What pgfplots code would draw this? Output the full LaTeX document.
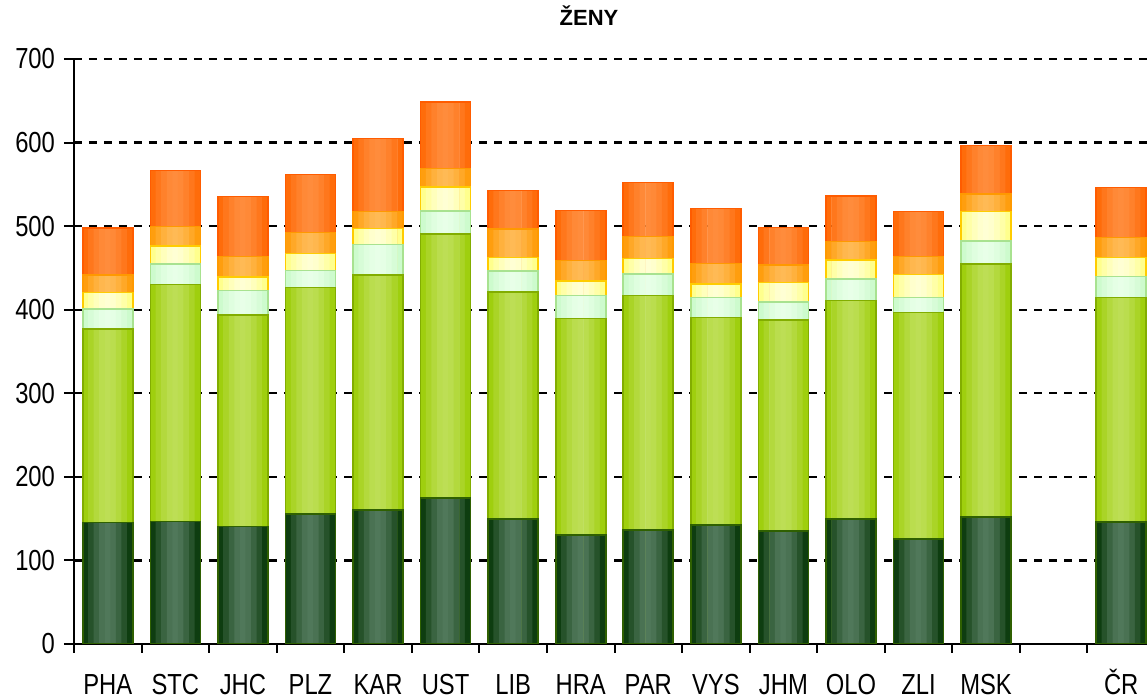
\documentclass[border=0pt]{standalone}
\usepackage{fontspec}
\setmainfont{Liberation Sans}[FakeStretch=0.82]
\newfontfamily\titlefont{Liberation Sans}
\usepackage{pgfplots}
\pgfplotsset{compat=1.18}
\usepackage{pgfplotstable}

\definecolor{dgE}{HTML}{023202}
\definecolor{dgC}{HTML}{50785A}
\definecolor{lgE}{HTML}{99CC00}
\definecolor{lgC}{HTML}{BDDE55}
\definecolor{mnE}{HTML}{C8FAC8}
\definecolor{mnC}{HTML}{E8FFE8}
\definecolor{mnB}{HTML}{A8E290}
\definecolor{ylE}{HTML}{FFFF80}
\definecolor{ylC}{HTML}{FFFFD4}
\definecolor{ylB}{HTML}{FFCC00}
\definecolor{loE}{HTML}{FF9900}
\definecolor{loC}{HTML}{FFBA55}
\definecolor{orE}{HTML}{FF6600}
\definecolor{orC}{HTML}{FF8C3C}

% cumulative tops of each segment (bottom to top)
\pgfplotstableread{
x a b c d e f
0  145.6 376.9 400.5 420.8 441.5 497.8
1  146.4 430.4 455.0 476.2 499.4 566.8
2  140.8 393.7 422.8 439.2 463.5 535.7
3  155.2 426.8 446.7 467.5 492.2 561.6
4  160.0 441.5 477.9 497.0 517.3 605.1
5  174.7 490.6 518.1 546.8 569.2 648.6
6  149.6 421.2 446.0 462.7 496.6 542.5
7  130.4 389.3 417.2 434.0 459.1 518.5
8  136.4 416.8 442.4 461.5 487.4 552.0
9  142.4 390.9 414.8 430.8 455.5 520.9
10 135.2 387.7 409.2 432.8 453.5 498.6
11 149.6 410.8 437.1 459.5 481.4 536.1
12 125.6 396.9 414.8 441.9 463.5 517.3
13 152.0 455.0 482.2 517.3 538.8 596.3
15 146.0 414.8 439.6 462.7 486.2 546.4
}\data

% one segment: vertical strips shaded from edge colour (#2) to centre colour (#3), outline #4
\newcommand\seg[4]{%
\addplot[ybar, bar width=3.0pt, bar shift=-11.111pt, draw=none, fill=#3!16!#2] table[x=x,y=#1]{\data};
\addplot[ybar, bar width=3.0pt, bar shift=-8.333pt, draw=none, fill=#3!46!#2] table[x=x,y=#1]{\data};
\addplot[ybar, bar width=3.0pt, bar shift=-5.556pt, draw=none, fill=#3!72!#2] table[x=x,y=#1]{\data};
\addplot[ybar, bar width=3.0pt, bar shift=-2.778pt, draw=none, fill=#3!92!#2] table[x=x,y=#1]{\data};
\addplot[ybar, bar width=3.0pt, bar shift=0pt, draw=none, fill=#3] table[x=x,y=#1]{\data};
\addplot[ybar, bar width=3.0pt, bar shift=2.778pt, draw=none, fill=#3!92!#2] table[x=x,y=#1]{\data};
\addplot[ybar, bar width=3.0pt, bar shift=5.556pt, draw=none, fill=#3!72!#2] table[x=x,y=#1]{\data};
\addplot[ybar, bar width=3.0pt, bar shift=8.333pt, draw=none, fill=#3!46!#2] table[x=x,y=#1]{\data};
\addplot[ybar, bar width=3.0pt, bar shift=11.111pt, draw=none, fill=#3!16!#2] table[x=x,y=#1]{\data};
\addplot[ybar, bar width=25pt, bar shift=0pt, draw=#4, line width=0.8pt, fill=none] table[x=x,y=#1]{\data};
}

\begin{document}
\begin{tikzpicture}
\begin{axis}[
  scale only axis,
  width=540.5pt, height=292.5pt,
  xmin=-0.5, xmax=15.5, ymin=0, ymax=700,
  axis x line*=bottom, axis y line*=left,
  axis line style={black, line width=1.3pt},
  ytick={0,100,...,700},
  ymajorgrids,
  grid style={black, line width=1.2pt, dash pattern=on 4pt off 3.5pt},
  ytick style={black, line width=1pt},
  y tick label style={xshift=-1pt},
  tick align=outside,
  major tick length=5pt,
  xtick={0,1,2,3,4,5,6,7,8,9,10,11,12,13,15},
  xticklabels={PHA,STC,JHC,PLZ,KAR,UST,LIB,HRA,PAR,VYS,JHM,OLO,ZLI,MSK,ČR},
  xtick style={draw=none},
  extra x ticks={-0.5,0.5,1.5,2.5,3.5,4.5,5.5,6.5,7.5,8.5,9.5,10.5,11.5,12.5,13.5,14.5},
  extra x tick labels={},
  extra x tick style={xtick style={draw=black, line width=1pt}, tick align=outside, major tick length=4.5pt, grid=none},
  xticklabel style={anchor=base, inner sep=0pt, yshift=-20.5pt},
  tick label style={font=\fontsize{14.5}{16}\selectfont},
  /pgf/number format/assume math mode=true,
  title={\titlefont\bfseries\fontsize{11}{13}\selectfont ŽENY},
  title style={at={(rel axis cs:0.4764,1)}, anchor=base, yshift=11pt},
]
\seg{f}{orE}{orC}{orE!90!red}
\seg{e}{loE}{loC}{loE}
\seg{d}{ylE}{ylC}{ylB}
\seg{c}{mnE}{mnC}{mnB}
\seg{b}{lgE}{lgC}{lgE!85!black}
\seg{a}{dgE}{dgC}{dgE!70!lgE}
\coordinate (O) at (rel axis cs:0,0);
\end{axis}
\pgfresetboundingbox
\path[use as bounding box] ([shift={(-37pt,-28pt)}]O) rectangle ([shift={(536.5pt,322pt)}]O);
\end{tikzpicture}
\end{document}
